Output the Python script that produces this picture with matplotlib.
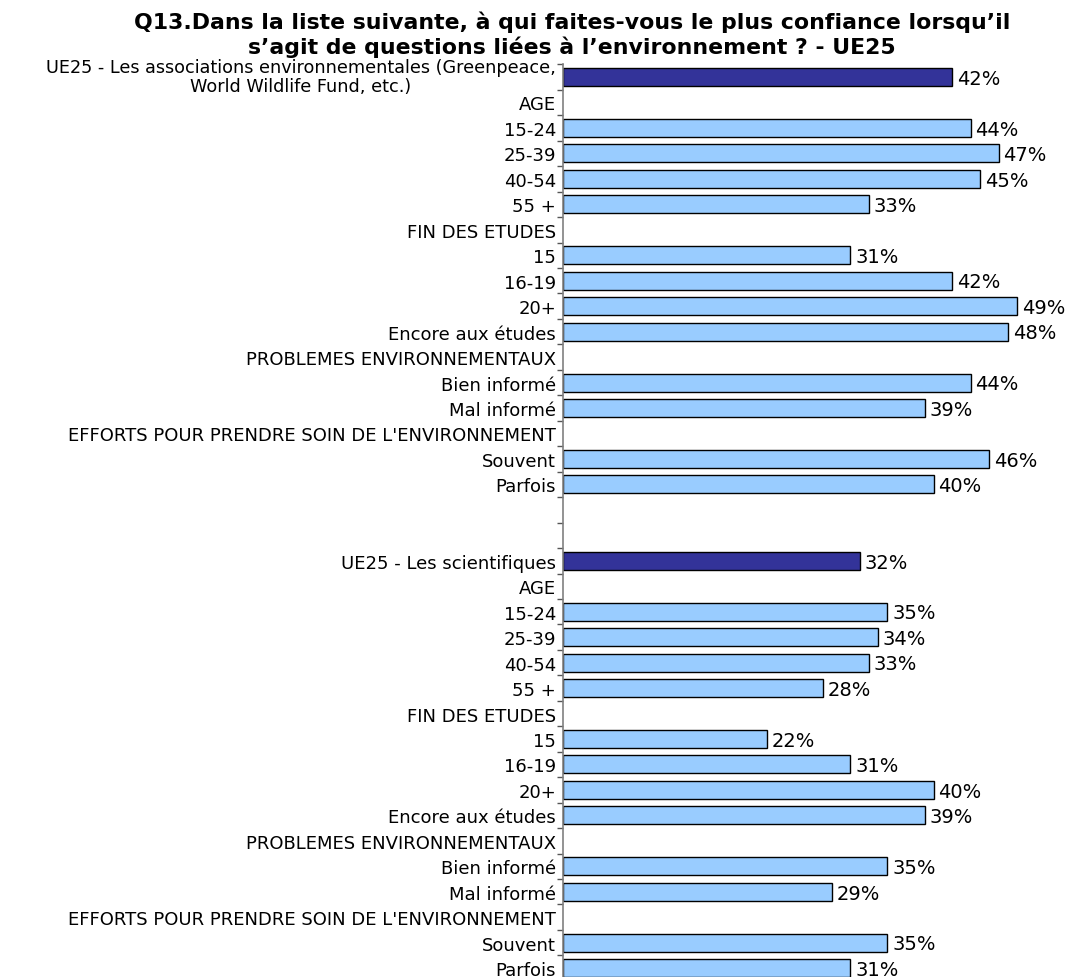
import matplotlib.pyplot as plt
from matplotlib.ticker import FixedLocator
from matplotlib.transforms import offset_copy

plt.rcParams['font.family'] = ['DejaVu Sans']

title = ("Q13.Dans la liste suivante, à qui faites-vous le plus confiance lorsqu\u2019il\n"
         "s\u2019agit de questions liées à l\u2019environnement ? - UE25")

group_rows = ["AGE", "15-24", "25-39", "40-54", "55 +",
              "FIN DES ETUDES", "15", "16-19", "20+", "Encore aux études",
              "PROBLEMES ENVIRONNEMENTAUX", "Bien informé", "Mal informé",
              "EFFORTS POUR PRENDRE SOIN DE L'ENVIRONNEMENT", "Souvent", "Parfois"]

assoc_label = "UE25 - Les associations environnementales (Greenpeace,\nWorld Wildlife Fund, etc.)"
assoc_total = 42
assoc_values = [None, 44, 47, 45, 33, None, 31, 42, 49, 48, None, 44, 39, None, 46, 40]

sci_label = "UE25 - Les scientifiques"
sci_total = 32
sci_values = [None, 35, 34, 33, 28, None, 22, 31, 40, 39, None, 35, 29, None, 35, 31]

labels = [assoc_label] + group_rows + ["", ""] + [sci_label] + group_rows
values = [assoc_total] + assoc_values + [None, None] + [sci_total] + sci_values
is_total = [lab.startswith("UE25") for lab in labels]

dark = "#333399"
light = "#99CCFF"

W, H = 1070, 978
fig = plt.figure(figsize=(W / 100, H / 100), dpi=100)
row_h = 25.46
top_px = 65.3
n = len(labels)
ax_left = 563 / W
ax_top = 1 - top_px / H
ax_bottom = 1 - (top_px + n * row_h) / H
ax = fig.add_axes([ax_left, ax_bottom, 1 - ax_left, ax_top - ax_bottom])

for i, v in enumerate(values):
    if v is None:
        continue
    ax.barh(i, v, height=0.71, color=dark if is_total[i] else light,
            edgecolor="black", linewidth=1.0)
    ax.text(v + 0.5, i + 0.05, f"{v}%", va="center", ha="left", fontsize=14)

ax.set_xlim(0, (W - 563) / 9.27)
ax.set_ylim(n - 0.5, -0.5)

# category labels, drawn by hand so they can sit a little below the row centre
ax.set_yticks(range(n))
ax.set_yticklabels([])
lab_tr = offset_copy(ax.get_yaxis_transform(), fig=fig, x=-7, y=-2, units="dots")
for i, lab in enumerate(labels):
    if not lab:
        continue
    if "\n" in lab:
        ax.text(0, i - 0.1, lab, transform=lab_tr, ha="right", va="center",
                fontsize=12.7, multialignment="center", linespacing=1.05)
    else:
        ax.text(0, i, lab, transform=lab_tr, ha="right", va="center", fontsize=13)

ax.yaxis.set_minor_locator(FixedLocator([i - 0.5 for i in range(n + 1)]))
ax.tick_params(axis="y", which="major", length=0)
ax.tick_params(axis="y", which="minor", length=4.5, width=1, color="#555555", direction="out")
ax.tick_params(axis="x", which="both", bottom=False, labelbottom=False)

for side in ["top", "right", "bottom"]:
    ax.spines[side].set_visible(False)
ax.spines["left"].set_color("#808080")
ax.spines["left"].set_linewidth(1.2)

fig.text(572 / W, 1 - 35 / H, title, ha="center", va="center", fontsize=15.8,
         fontweight="bold", linespacing=1.2, multialignment="center")

fig.savefig("out.png", dpi=100)
